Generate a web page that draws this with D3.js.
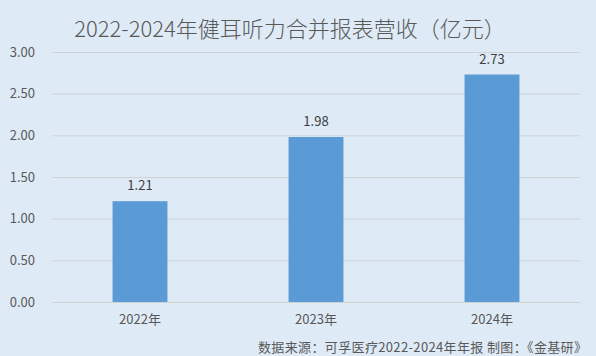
<!DOCTYPE html>
<html><head><meta charset="utf-8">
<script src="https://cdn.jsdelivr.net/npm/d3@7"></script>
<style>html,body{margin:0;padding:0;background:#deeaf6;}svg{display:block;}</style>
</head><body>
<script>
const categories = ["2022年", "2023年", "2024年"];
const revenue = [1.21, 1.98, 2.73];
const yTicks = [0, 0.5, 1.0, 1.5, 2.0, 2.5, 3.0];
const titleText = "2022-2024年健耳听力合并报表营收（亿元）";
const sourceText = "数据来源：可孚医疗2022-2024年年报  制图：《金基研》";

const W = 596, H = 356;
const m = {left: 52, right: 16, top: 52, bottom: 54};
const svg = d3.select("body").append("svg").attr("width", W).attr("height", H);
svg.append("rect").attr("width", W).attr("height", H).attr("fill", "#deeaf6");
const font = "'Microsoft YaHei','Noto Sans CJK SC','DejaVu Sans',sans-serif";

const x = d3.scaleBand().domain(categories).range([m.left, W - m.right]).paddingInner(0.688).paddingOuter(0.344);
const y = d3.scaleLinear().domain([0, 3]).range([H - m.bottom, m.top]);

svg.append("text").attr("x", 290).attr("y", 37).attr("text-anchor", "middle")
  .attr("font-family", font).attr("font-size", 22).attr("font-weight", 300).attr("fill", "#595959").text(titleText);

const ya = svg.append("g").attr("transform", `translate(${m.left},0)`)
  .call(d3.axisLeft(y).tickValues(yTicks).tickFormat(d3.format(".2f")).tickSize(-(W - m.left - m.right)).tickPadding(17));
ya.select(".domain").remove();
ya.selectAll(".tick line").attr("stroke", "#d0d3d6").attr("stroke-width", 1);
ya.selectAll(".tick text").attr("font-family", font).attr("font-size", 13).attr("fill", "#595959");

svg.append("g").selectAll("rect").data(revenue).join("rect")
  .attr("x", (d, i) => x(categories[i])).attr("width", x.bandwidth())
  .attr("y", d => y(d)).attr("height", d => y(0) - y(d)).attr("fill", "#5b9bd5");

svg.append("g").selectAll("text").data(revenue).join("text")
  .attr("x", (d, i) => x(categories[i]) + x.bandwidth() / 2).attr("y", d => y(d) - 11)
  .attr("text-anchor", "middle").attr("font-family", font).attr("font-size", 13).attr("fill", "#404040")
  .text(d => d3.format(".2f")(d));

const xa = svg.append("g").attr("transform", `translate(0,${H - m.bottom})`)
  .call(d3.axisBottom(x).tickSize(0).tickPadding(13));
xa.select(".domain").attr("stroke", "#d0d3d6");
xa.selectAll(".tick text").attr("font-family", font).attr("font-size", 13).attr("fill", "#595959");

svg.append("text").attr("x", 587).attr("y", 352).attr("text-anchor", "end")
  .attr("font-family", font).attr("font-size", 13).attr("fill", "#595959")
  .attr("textLength", 329).attr("lengthAdjust", "spacing").text(sourceText);
</script>
</body></html>
